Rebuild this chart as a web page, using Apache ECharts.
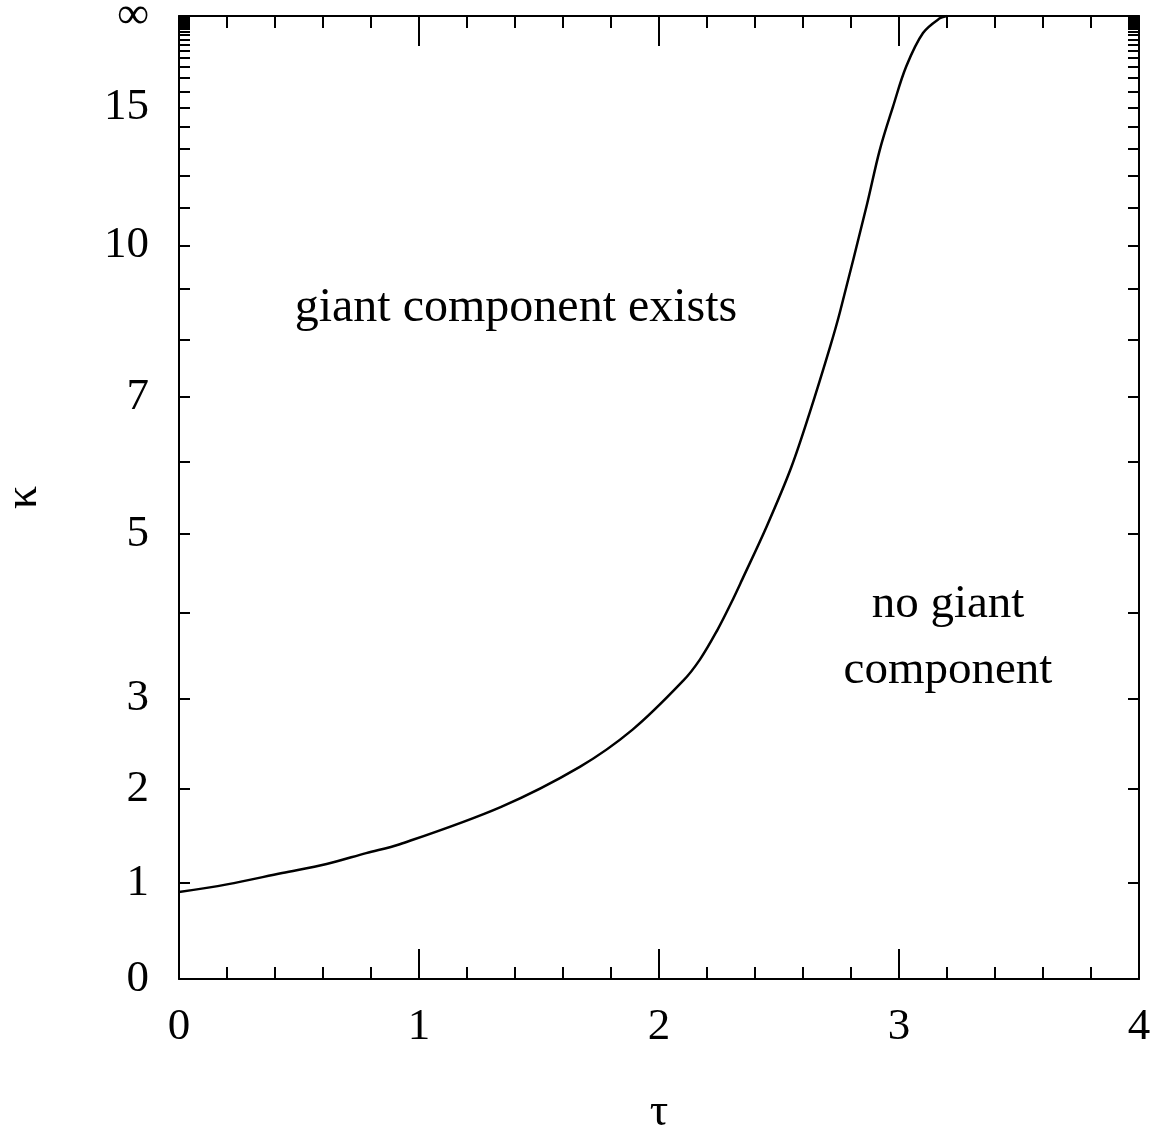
<!DOCTYPE html>
<html>
<head>
<meta charset="utf-8">
<title>giant component</title>
<script src="https://cdn.jsdelivr.net/npm/echarts@6/dist/echarts.min.js"></script>
<style>
  html, body { margin: 0; padding: 0; background: #fff; }
  #main { width: 1158px; height: 1129px; }
</style>
</head>
<body>
<div id="main"></div>
<script>
  // boundary curve (Infinity = top edge of the box)
  const tauData = [0, 0.2, 0.43, 0.615, 0.78, 0.92, 1.34, 1.67, 1.89, 2.1, 2.171, 2.242, 2.3, 2.346, 2.45, 2.55, 2.629, 2.7125, 2.754, 2.867, 2.92, 2.975, 3.03, 3.1, 3.17, 3.2]
  const kappaData = [0.906, 0.986, 1.105, 1.2, 1.315, 1.409, 1.805, 2.24, 2.65, 3.2, 3.45, 3.79, 4.12, 4.41, 5.11, 5.91, 6.76, 7.86, 8.53, 11.12, 12.97, 15.04, 18.07, 23.6, 33.6, Infinity]

  // labelled kappa values on the left axis
  const kappaLabels = [0, 1, 2, 3, 5, 7, 10, 15, Infinity]
  // a small tick at every whole kappa, they pile up near infinity
  const kappaTicks = []
  for (let k = 0; k <= 60; k++) kappaTicks.push(k)
  kappaTicks.push(Infinity)

  const tauMin = 0
  const tauMax = 4

  // kappa axis is squashed: tanh(kappa/10) so that infinity lands on 1
  const squash = k => Math.tanh(k / 10)

  const font = '"Liberation Serif", "Times New Roman", serif'

  const chartInstance = echarts.init(document.getElementById('main'))

  const kappaFormatter = (val) => {
    if (val > 0.99999) return '∞'
    return String(Math.round(10 * Math.atanh(val)))
  }

  const initOption = {
    animation: false,
    backgroundColor: '#fff',
    grid: {
      left: 179,
      right: 19,
      top: 16,
      bottom: 150,
      containLabel: false,
      outerBoundsMode: 'none'
    },
    xAxis: [{
      type: 'value',
      position: 'bottom',
      min: tauMin,
      max: tauMax,
      interval: 1,
      name: 'τ',
      nameLocation: 'middle',
      nameGap: 111,
      nameTextStyle: { fontFamily: font, fontSize: 46, color: '#000' },
      axisLine: { show: true, onZero: false, lineStyle: { color: '#000', width: 2 } },
      axisTick: { inside: true, length: 30, lineStyle: { color: '#000', width: 2 } },
      minorTick: { show: true, splitNumber: 5, length: 12, lineStyle: { color: '#000', width: 2 } },
      axisLabel: { fontFamily: font, fontSize: 45, color: '#000', margin: 26 },
      splitLine: { show: false }
    }, {
      // top mirror, ticks only
      type: 'value',
      position: 'top',
      min: tauMin,
      max: tauMax,
      interval: 1,
      axisLine: { show: true, onZero: false, lineStyle: { color: '#000', width: 2 } },
      axisTick: { inside: true, length: 30, lineStyle: { color: '#000', width: 2 } },
      minorTick: { show: true, splitNumber: 5, length: 12, lineStyle: { color: '#000', width: 2 } },
      axisLabel: { show: false },
      splitLine: { show: false }
    }],
    yAxis: [{
      type: 'value',
      position: 'left',
      min: 0,
      max: 1,
      name: 'κ',
      nameLocation: 'middle',
      nameRotate: 90,
      nameGap: 132,
      nameTextStyle: { fontFamily: font, fontSize: 46, color: '#000' },
      axisLine: { show: true, onZero: false, lineStyle: { color: '#000', width: 2 } },
      axisTick: {
        inside: true,
        length: 11,
        customValues: kappaTicks.map(squash),
        lineStyle: { color: '#000', width: 2 }
      },
      axisLabel: {
        fontFamily: font,
        fontSize: 45,
        color: '#000',
        margin: 30,
        customValues: kappaLabels.map(squash),
        formatter: kappaFormatter
      },
      splitLine: { show: false }
    }, {
      // right mirror, ticks only
      type: 'value',
      position: 'right',
      min: 0,
      max: 1,
      axisLine: { show: true, onZero: false, lineStyle: { color: '#000', width: 2 } },
      axisTick: {
        inside: true,
        length: 11,
        customValues: kappaTicks.map(squash),
        lineStyle: { color: '#000', width: 2 }
      },
      axisLabel: { show: false },
      splitLine: { show: false }
    }],
    graphic: [{
      type: 'text',
      x: 516,
      y: 284,
      style: { text: 'giant component exists', font: '48px ' + font, fill: '#000', textAlign: 'center' }
    }, {
      type: 'text',
      x: 948,
      y: 572,
      style: { text: 'no giant\ncomponent', font: '47px ' + font, fill: '#000', textAlign: 'center', lineHeight: 66 }
    }],
    series: [{
      name: 'boundary',
      type: 'line',
      xAxisIndex: 0,
      yAxisIndex: 0,
      showSymbol: false,
      smooth: 0.35,
      lineStyle: { color: '#000', width: 2.5 },
      data: tauData.map((t, i) => [t, squash(kappaData[i])])
    }]
  }

  chartInstance.setOption(initOption)
</script>
</body>
</html>
